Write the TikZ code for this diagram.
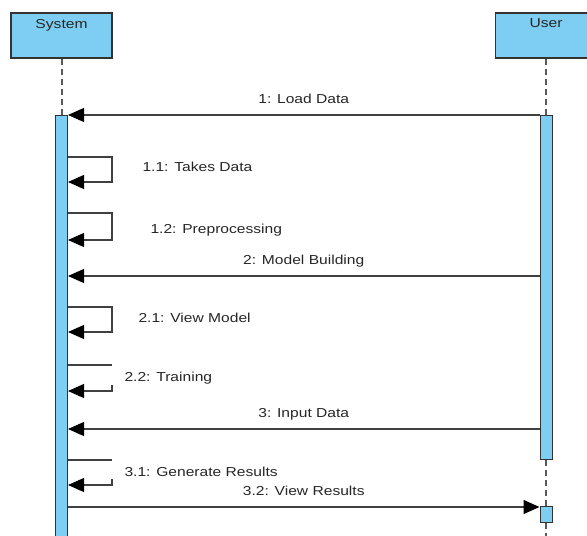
\documentclass[tikz,border=0pt]{standalone}
\usepackage{fontspec}
\setmainfont{Liberation Sans}[FakeStretch=1.2]
\usetikzlibrary{arrows.meta}
\definecolor{barblue}{RGB}{125,206,242}
\begin{document}
\begin{tikzpicture}[x=1pt, y=-1pt, font=\fontsize{13}{15}\selectfont, text=black!85,
  lifebox/.style={draw=black!80, line width=1.2pt, fill=barblue, minimum width=101pt,
                  minimum height=45pt, inner sep=0pt},
  actbar/.style={draw=black!80, line width=1pt, fill=barblue, minimum width=12pt,
                 inner sep=0pt, minimum height=#1},
  life/.style={black!65, line width=2pt, dash pattern=on 6pt off 4pt},
  msg/.style={-{Triangle[length=16pt,width=14pt,color=black]}, draw=black!75, line width=1.2pt},
  msglbl/.style={above=5pt, text depth=3pt},
  selflbl/.style={anchor=base west}
]
  \useasboundingbox (0,0) rectangle (587,536);
  \clip (0,0) rectangle (587,536);
  % lifeline heads
  \node[lifebox] (sys) at (61.5,35.5) {};
  \node[anchor=north] (systxt) at ([yshift=-3pt]sys.north) {System};
  \node[lifebox] (usr) at (546,35.5) {};
  \node[anchor=north] (usrtxt) at ([yshift=-3pt]usr.north) {User};
  % activation bars
  \node[actbar=440pt] (sysbar)  at (61.5,335) {};
  \node[actbar=344pt] (usrbar)  at (546,287)  {};
  \node[actbar=16pt]  (usrbar2) at (546,514)  {};
  \coordinate (usrend) at (546,545);
  \draw[life] (sys.south)    -- (sysbar.north);
  \draw[life] (usr.south)    -- (usrbar.north);
  \draw[life] (usrbar.south) -- (usrbar2.north);
  \draw[life] (usrbar2.south) -- (usrend);
  % messages
  \draw[msg] (usrbar.west |- 0,115) -- node[msglbl] (m1) {1: Load Data} (sysbar.east |- 0,115);
  \draw[msg] (sysbar.east |- 0,157) -- (112,157) -- (112,182) -- (sysbar.east |- 0,182);
  \node[selflbl] (m11) at (139,171) {1.1: Takes Data};
  \draw[msg] (sysbar.east |- 0,213) -- (112,213) -- (112,240) -- (sysbar.east |- 0,240);
  \node[selflbl] (m12) at (147,233) {1.2: Preprocessing};
  \draw[msg] (usrbar.west |- 0,276) -- node[msglbl] (m2) {2: Model Building} (sysbar.east |- 0,276);
  \draw[msg] (sysbar.east |- 0,307) -- (112,307) -- (112,332) -- (sysbar.east |- 0,332);
  \node[selflbl] (m21) at (135,322) {2.1: View Model};
  \draw[black!75, line width=1.2pt] (sysbar.east |- 0,365) -- (112,365);
  \draw[msg] (112,385) -- (112,391) -- (sysbar.east |- 0,391);
  \node[selflbl] (m22) at (121,381) {2.2: Training};
  \draw[msg] (usrbar.west |- 0,429) -- node[msglbl] (m3) {3: Input Data} (sysbar.east |- 0,429);
  \draw[black!75, line width=1.2pt] (sysbar.east |- 0,460) -- (112,460);
  \draw[msg] (112,479) -- (112,485) -- (sysbar.east |- 0,485);
  \node[selflbl] (m31) at (121,476) {3.1: Generate Results};
  \draw[msg] (sysbar.east |- 0,507) -- node[msglbl] (m32) {3.2: View Results} (usrbar2.west |- 0,507);
\end{tikzpicture}
\end{document}
